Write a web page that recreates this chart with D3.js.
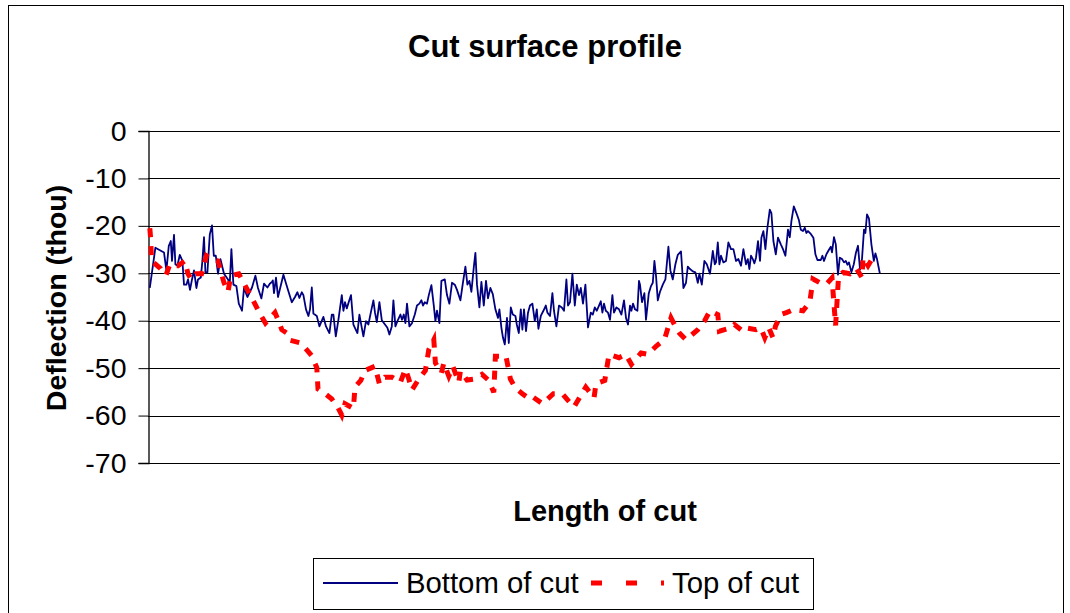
<!DOCTYPE html>
<html>
<head>
<meta charset="utf-8">
<script src="https://cdn.jsdelivr.net/npm/d3@7"></script>
<style>
  body { margin: 0; background: #fff; }
  text { font-family: "Liberation Sans", Arial, sans-serif; }
</style>
</head>
<body>
<script>
// length of cut (sample units) vs deflection (thou)
var yTicks = [0, -10, -20, -30, -40, -50, -60, -70];
var seriesNames = ["Bottom of cut", "Top of cut"];

var bottomOfCut = [
  [0.9,-33.1],[3.7,-24.6],[8,-25.6],[9.2,-29.4],[10.4,-24.2],[11.4,-23.2],[12,-27.4],[13,-21.9],
  [13.7,-28.1],[14.7,-28.4],[15.9,-26.1],[17.2,-27.4],[18,-32.4],[19.2,-32.4],[20,-31.3],[21,-33.5],
  [22,-31.3],[23,-29.4],[24.2,-33.1],[25,-31.3],[26.4,-30.9],[27.2,-27.4],[28,-22.4],[28.7,-29.8],
  [29.7,-29.8],[30.9,-21.8],[32,-19.9],[32.9,-26.3],[33.9,-26.3],[35,-30.1],[36.2,-27],[38,-30.1],
  [40,-31.3],[40.9,-32],[41.7,-24.9],[42.7,-32.4],[44.2,-32.7],[45.4,-36.4],[47,-37.9],[48,-33.1],
  [49.7,-35],[52,-33],[53.7,-30.5],[55,-33.1],[56.7,-35.3],[58,-32.2],[59.7,-33],[60.9,-32.2],
  [62,-31.8],[62.4,-31.5],[63,-34.2],[64,-30.9],[65,-35],[67.7,-30.3],[69.7,-33.1],[71.9,-36.1],
  [73.5,-35],[74.7,-34],[75.7,-35.2],[76.9,-34],[77.7,-34.6],[79,-37.6],[80.2,-39],[81,-37.6],
  [81.9,-33],[82.7,-38.5],[84.4,-39],[85.7,-41.2],[87.7,-39.2],[89,-41.2],[90.7,-42.6],[91.9,-38.7],
  [92.7,-38.7],[93.9,-43.3],[95.2,-39.8],[96.9,-34.6],[97.7,-37.9],[98.5,-36.1],[99.4,-37.4],[100.5,-35.9],
  [101.5,-34.6],[102.7,-40.8],[104.7,-42.6],[105.7,-38.7],[106.9,-41.5],[107.7,-43.3],[109,-40.1],[110.2,-40.8],
  [111.4,-38.3],[112.7,-35.7],[113.5,-38.3],[114.4,-40.3],[115.7,-36.1],[116.9,-39.9],[118.5,-40.8],[119.7,-41.5],
  [120.7,-42.9],[121.9,-41.2],[122.7,-35.7],[123.7,-41.2],[125,-39.8],[126.2,-38.7],[127,-39.8],[127.9,-38.7],
  [128.7,-40.5],[129.5,-36.4],[130.7,-41.2],[132,-40.5],[133.4,-38.7],[134.5,-36.8],[135.7,-36.4],[136.7,-35.7],
  [137.5,-36.8],[138.4,-36.1],[139.5,-36.4],[140.4,-34.6],[141.7,-32.5],[142.9,-36.8],[143.7,-40.1],[144.5,-37.9],
  [145.7,-40.5],[146.7,-31.6],[148.4,-31.3],[149.5,-34.6],[150.7,-36.4],[152,-32],[153.4,-32.4],[154.5,-33.5],
  [156.2,-35.7],[157.4,-32.2],[158.7,-28.6],[159.7,-32.4],[160.7,-31.6],[161.7,-33.9],[162.9,-28.7],[163.7,-25.7],
  [164.5,-32.4],[165.7,-37.2],[166.7,-31.8],[167.9,-36.8],[169,-31.6],[170,-35.3],[171.2,-33.1],[172.4,-34.4],
  [173.7,-37.6],[175,-39.4],[175.7,-37.6],[176.7,-41.5],[177.5,-43.6],[178.4,-45],[179.5,-39.4],[180.4,-44.7],
  [181.4,-37.2],[182.4,-38.7],[183.7,-39],[184.4,-40.8],[185.4,-42.6],[186.4,-37.6],[187.2,-41.9],[188,-37.6],
  [189,-42.2],[190,-38.3],[191,-36.8],[192.2,-36.4],[193.4,-40.1],[194.4,-37.6],[195.2,-41.7],[196.4,-39],
  [197.7,-37.9],[198.9,-36.8],[199.7,-38.3],[201,-39],[202.2,-34.2],[203,-37.9],[204.2,-41.2],[205.5,-36.8],
  [206.9,-37.2],[208,-37.9],[209.2,-31.3],[210,-36.8],[211,-36.1],[212.2,-30.1],[213.4,-36.8],[214.4,-32.4],
  [215.5,-34.6],[216.4,-33.1],[217.5,-36.4],[218.7,-32.4],[220,-41.4],[221.4,-38.3],[222.4,-38.7],[223.4,-37.2],
  [224.4,-37.9],[225.5,-36.8],[226.4,-35.9],[227.2,-38.3],[228,-36.4],[228.9,-37.9],[230,-38.3],[231,-39.8],
  [232.2,-34.6],[233,-38.3],[234.2,-37.2],[235.5,-37.6],[236.7,-38.7],[238,-35.7],[239,-39.4],[240,-40.8],
  [241,-36.8],[241.7,-37.9],[242.5,-36.4],[243.5,-37.6],[244.7,-37.9],[245.5,-31.6],[246,-32.4],[247,-36.1],
  [248.2,-34.2],[249,-39.8],[250.4,-34.2],[251.5,-32.7],[252.4,-32],[253.2,-27.4],[254,-30.5],[254.9,-35.7],
  [256,-33.9],[257.4,-32.4],[258.7,-31.3],[260.2,-24.4],[261.2,-29.4],[262.4,-31.3],[263.7,-28.1],[264.9,-26.1],
  [266.5,-25.4],[267.7,-33.1],[269,-32],[269.9,-28.6],[271,-29.1],[272.4,-29.6],[273.7,-29.8],[274.9,-32],
  [275.7,-30.1],[276.9,-32.4],[278.2,-27.4],[279.4,-28.1],[281,-30.1],[282.4,-25.3],[283.4,-28.1],[284,-27.7],
  [284.9,-23.5],[285.7,-28.1],[286.5,-26.3],[287.7,-27.7],[289,-27.4],[290.2,-23.5],[291.5,-24.9],[292.7,-24.9],
  [294,-27.4],[295.2,-27],[296.5,-28.4],[297.7,-24.9],[299,-28.1],[299.9,-27],[300.7,-29.1],[301.5,-26.3],
  [302.4,-27],[303.2,-27.9],[304,-26.7],[305,-23.2],[306,-27.4],[306.7,-22.5],[307.7,-21.1],[308.7,-24.9],
  [309.7,-20.4],[310.9,-16.6],[311.7,-17.3],[312.7,-23.2],[313.9,-26],[315,-22.5],[316.4,-23.9],[317.5,-24.9],
  [318.7,-26.3],[320,-20.8],[320.9,-22.4],[321.7,-19],[322.9,-15.9],[324.2,-17.3],[325.4,-18.7],[326.4,-20.8],
  [327.5,-21.1],[328.4,-20.4],[329.2,-21.5],[330,-21.1],[331.4,-21.7],[332.7,-22.5],[333.7,-26],[334.7,-27.2],
  [336.4,-27.2],[337.2,-26.3],[338,-27.4],[339.2,-26],[340.4,-25.1],[341.4,-24.4],[342,-25.6],[343,-22.4],
  [343.9,-23.9],[345,-30.3],[345.9,-26.7],[347,-27],[348,-27.7],[348.9,-27.4],[349.7,-28.2],[350.5,-27.7],
  [351.7,-29.8],[352.9,-28.1],[353.9,-25.8],[355,-24.2],[356,-29.2],[357,-27],[358,-20.8],[358.7,-21.5],
  [359.5,-17.6],[360.5,-18.5],[361.7,-23.9],[362.9,-27.4],[363.7,-25.8],[364.5,-27],[365.9,-30]
];

var topOfCut = [
  [0.9,-20.5],[1.3,-22.5],[1.8,-27.5],[3.5,-28],[6.3,-29],[7.5,-29.8],[9,-30.4],[10.9,-28.1],
  [14,-28.4],[15,-28.4],[18.4,-27.4],[20,-30.1],[21.7,-31.3],[24,-30.1],[26.8,-30.1],[29.2,-26.3],
  [31.7,-27],[35,-27.4],[38,-32],[40,-33.9],[41.4,-30.5],[45.4,-30.1],[49.2,-33.1],[51.7,-35],
  [55.9,-38.5],[58.7,-40.5],[63.5,-38.3],[65.7,-40.5],[66.9,-41.9],[69.7,-42.7],[71,-44.1],[76.4,-44.7],
  [78.5,-45.7],[81.9,-47.4],[84.4,-49.9],[85,-54.4],[87.7,-55.1],[91.9,-56.5],[93.5,-57.5],[94.4,-57.8],
  [96.9,-59.9],[98.5,-57.5],[102.7,-58.5],[103.5,-54],[106.4,-52.6],[108.5,-50.5],[113.5,-49.6],[115.7,-53.3],
  [118.5,-51.9],[122,-51.9],[126.2,-53],[128.7,-50.2],[130.4,-52.3],[132,-54.6],[135.4,-52.3],[138.7,-50.5],
  [140.4,-46.1],[142.9,-44],[143.7,-48.9],[146.7,-51],[147.9,-48.9],[150.4,-51.7],[152.4,-49.6],[155.4,-53],
  [156.2,-50.6],[159.5,-52.5],[162.9,-52.3],[167,-51.3],[170.4,-52.6],[172.9,-55.1],[173.7,-47.5],[179,-47.5],
  [181.2,-52.3],[183.7,-54.2],[187.2,-55.4],[190.5,-56.4],[192.2,-56],[197.2,-57.5],[202.7,-55.4],[207.2,-55.4],
  [210,-56.8],[213,-58.2],[218.9,-54],[223,-56.3],[224,-53.3],[228.4,-52.6],[230.5,-47.1],[235.5,-47.8],
  [238.9,-47.1],[241.7,-49.2],[246.5,-46.8],[249.9,-47.1],[254,-45.4],[258.2,-44],[261.5,-39.4],[264,-41.5],
  [265.7,-42.6],[269,-44],[274.9,-41.9],[278.2,-40.1],[281,-37.9],[284.9,-38.7],[285.7,-42.2],[291.5,-41.5],
  [293.2,-40.8],[297.4,-42.2],[299,-41.5],[304,-41.9],[306.4,-41.5],[308.4,-43.6],[310.4,-41.5],[312.5,-43.6],
  [313.7,-41.2],[316.4,-38.7],[319.2,-38.3],[323,-37.6],[327.5,-37.9],[330.9,-36.1],[332.5,-31.2],[336,-32],
  [339.2,-32.3],[342,-31],[343.8,-41],[345.3,-30.5],[347.5,-29.8],[350.9,-30.1],[354.2,-29],[357,-30.9],
  [357.5,-26.7],[360,-28.4],[362,-27]
];

var W = 1070, H = 613;
var plot = {left: 148, right: 1060, top: 131, bottom: 463};

var svg = d3.select("body").append("svg")
    .attr("width", W)
    .attr("height", H);

// chart border
svg.append("rect")
    .attr("x", 8.5).attr("y", 5.5)
    .attr("width", 1055).attr("height", 620)
    .attr("fill", "#fff")
    .attr("stroke", "#000")
    .attr("stroke-width", 1);

var x = d3.scaleLinear().domain([0, 456]).range([plot.left, plot.right]);
var y = d3.scaleLinear().domain([-70, 0]).range([plot.bottom, plot.top]);

// gridlines
svg.append("g")
    .selectAll("line")
    .data(yTicks)
    .enter()
    .append("line")
    .attr("x1", plot.left)
    .attr("x2", plot.right)
    .attr("y1", d => Math.round(y(d)) + 0.5)
    .attr("y2", d => Math.round(y(d)) + 0.5)
    .style("stroke", "#000")
    .style("stroke-width", 1);

// y axis (plain hyphen minus like the original)
var yAxis = svg.append("g")
    .attr("transform", "translate(" + (plot.left + 0.5) + ",0)")
    .call(d3.axisLeft(y).tickValues(yTicks).tickSize(10).tickPadding(12).tickFormat(d => String(d)));
yAxis.select(".domain").attr("stroke", "#000").attr("stroke-width", 1.3);
yAxis.selectAll(".tick line").attr("stroke", "#000");
yAxis.selectAll(".tick text")
    .attr("fill", "#000")
    .style("font-size", "28.5px")
    .style("font-family", "'Liberation Sans', Arial, sans-serif");

// series
var line = d3.line()
    .x(d => x(d[0]))
    .y(d => y(d[1]));

svg.append("path")
    .datum(bottomOfCut)
    .attr("d", line)
    .attr("fill", "none")
    .attr("stroke", "#000080")
    .attr("stroke-width", 1.8)
    .attr("stroke-linejoin", "round");

svg.append("path")
    .datum(topOfCut)
    .attr("d", line)
    .attr("fill", "none")
    .attr("stroke", "#ff0000")
    .attr("stroke-width", 5)
    .attr("stroke-dasharray", "9,9");

// titles
svg.append("text")
    .attr("x", 545).attr("y", 57)
    .attr("text-anchor", "middle")
    .style("font-size", "31px")
    .style("font-weight", "bold")
    .text("Cut surface profile");

svg.append("text")
    .attr("x", 605).attr("y", 521)
    .attr("text-anchor", "middle")
    .style("font-size", "29px")
    .style("font-weight", "bold")
    .text("Length of cut");

svg.append("text")
    .attr("transform", "translate(66,298) rotate(-90)")
    .attr("text-anchor", "middle")
    .style("font-size", "28.5px")
    .style("font-weight", "bold")
    .text("Deflection (thou)");

// legend
var legend = svg.append("g");
legend.append("rect")
    .attr("x", 313.5).attr("y", 558.5)
    .attr("width", 500).attr("height", 51)
    .attr("fill", "#fff")
    .attr("stroke", "#000");

legend.append("line")
    .attr("x1", 323).attr("x2", 398)
    .attr("y1", 583).attr("y2", 583)
    .attr("stroke", "#000080").attr("stroke-width", 1.8);
legend.append("text")
    .attr("x", 406).attr("y", 593)
    .style("font-size", "29.3px")
    .text(seriesNames[0]);

legend.append("line")
    .attr("x1", 591).attr("x2", 664)
    .attr("y1", 583).attr("y2", 583)
    .attr("stroke", "#ff0000").attr("stroke-width", 5)
    .attr("stroke-dasharray", "11,24");
legend.append("text")
    .attr("x", 672).attr("y", 593)
    .style("font-size", "29.3px")
    .text(seriesNames[1]);
</script>
</body>
</html>
